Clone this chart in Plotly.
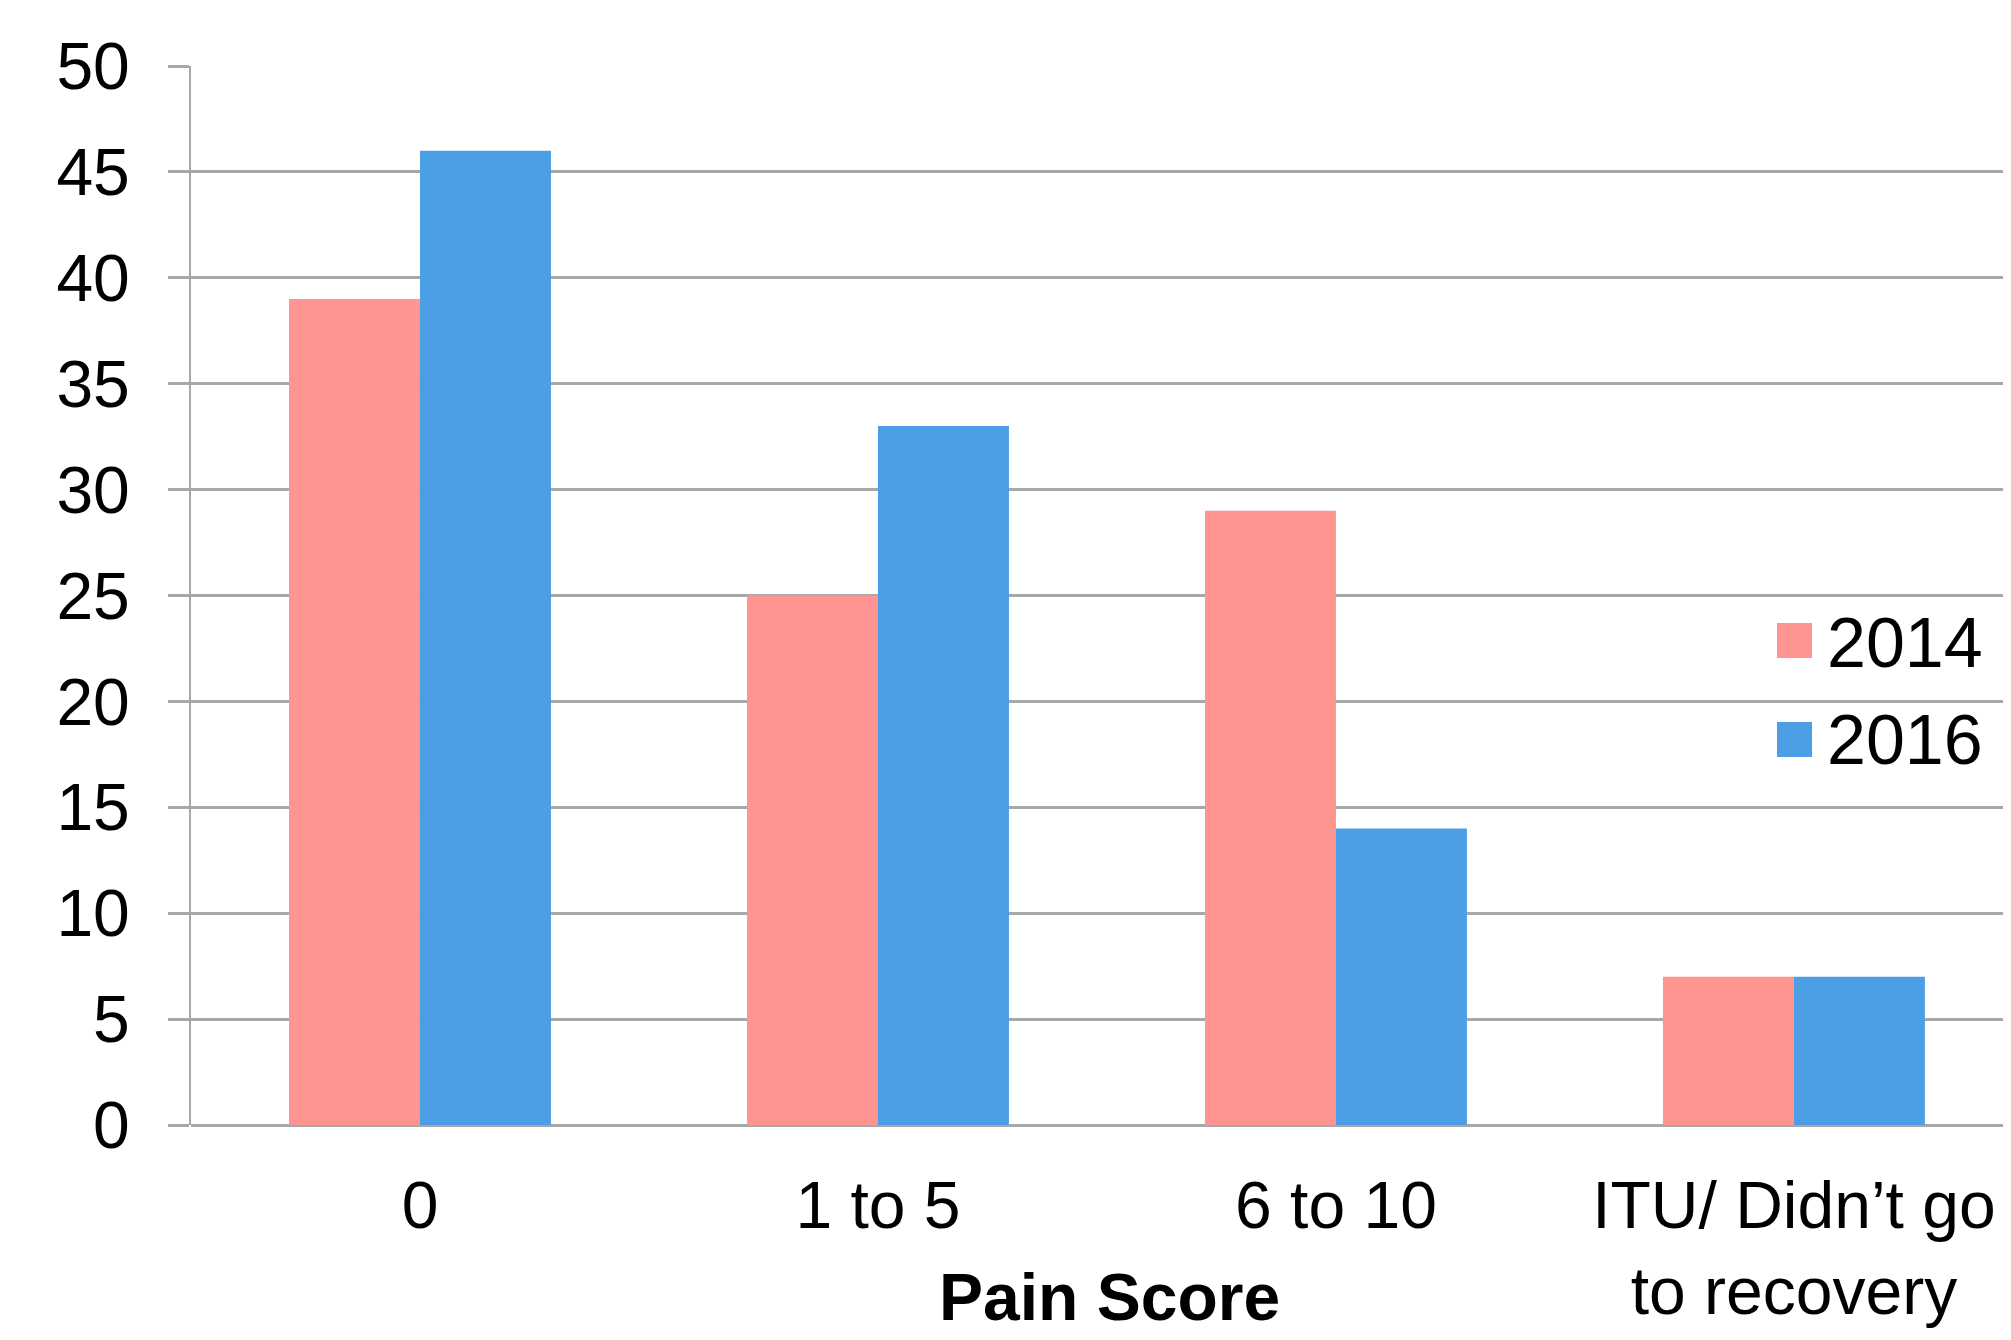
import plotly.graph_objects as go

categories = ["0", "1 to 5", "6 to 10", "ITU/ Didn’t go<br>to recovery"]
series_names = ["2014", "2016"]
values_2014 = [39, 25, 29, 7]
values_2016 = [46, 33, 14, 7]
colors = ["#FF9591", "#4C9FE5"]
y_ticks = [0, 5, 10, 15, 20, 25, 30, 35, 40, 45, 50]

OFF = 8  # default page body margin
W, H = 2011 - OFF, 1340 - OFF
ML, MR, MT, MB = 191 - OFF, 0, 66 - OFF, 215
PW, PH = W - ML - MR, H - MT - MB
FONT = "Liberation Sans"
GRID = "#A8A8A8"

fig = go.Figure()
for name, vals, col in zip(series_names, [values_2014, values_2016], colors):
    fig.add_trace(go.Bar(x=categories, y=vals, name=name, marker=dict(color=col, line=dict(width=0)),
                         showlegend=False))

def px_x(p):
    return (p - OFF - ML) / PW

def px_y(p):
    return (H - MB - (p - OFF)) / PH

shapes = []
annotations = []
legend_rows = [(1777, 623, 1812, 658, 643), (1777, 722, 1812, 757, 740)]
for (x0, y0, x1, y1, yc), name, col in zip(legend_rows, series_names, colors):
    shapes.append(dict(type="rect", xref="paper", yref="paper", x0=px_x(x0), x1=px_x(x1),
                       y0=px_y(y1), y1=px_y(y0), fillcolor=col, line=dict(width=0), layer="above"))
    annotations.append(dict(text=name, xref="paper", yref="paper", x=px_x(1825), y=px_y(yc),
                            xanchor="left", yanchor="middle", showarrow=False,
                            font=dict(family=FONT, size=70, color="black")))

annotations.append(dict(text="<b>Pain Score</b>", xref="paper", yref="paper", x=px_x(1109), y=px_y(1297),
                        xanchor="center", yanchor="middle", showarrow=False,
                        font=dict(family=FONT, size=66, color="black")))

fig.update_layout(
    width=W, height=H,
    margin=dict(l=ML, r=MR, t=MT, b=MB, autoexpand=False),
    paper_bgcolor="white", plot_bgcolor="white",
    barmode="group", bargap=0.428, bargroupgap=0,
    font=dict(family=FONT, size=66, color="black"),
    shapes=shapes, annotations=annotations,
    xaxis=dict(range=[-0.5, 3.474], showgrid=False, ticks="", showline=False, zeroline=False,
               tickfont=dict(family=FONT, size=66, color="black"), ticklabelstandoff=36,
               fixedrange=True),
    yaxis=dict(range=[0, 50], tickvals=y_ticks, showgrid=True, gridcolor=GRID, gridwidth=3,
               showline=True, linecolor=GRID, linewidth=2, ticks="outside", ticklen=21, tickwidth=3,
               tickcolor=GRID, zeroline=True, zerolinecolor=GRID, zerolinewidth=3,
               tickfont=dict(family=FONT, size=66, color="black"), ticklabelstandoff=25,
               fixedrange=True),
)

fig.write_html("out.html", config={"displayModeBar": False})
